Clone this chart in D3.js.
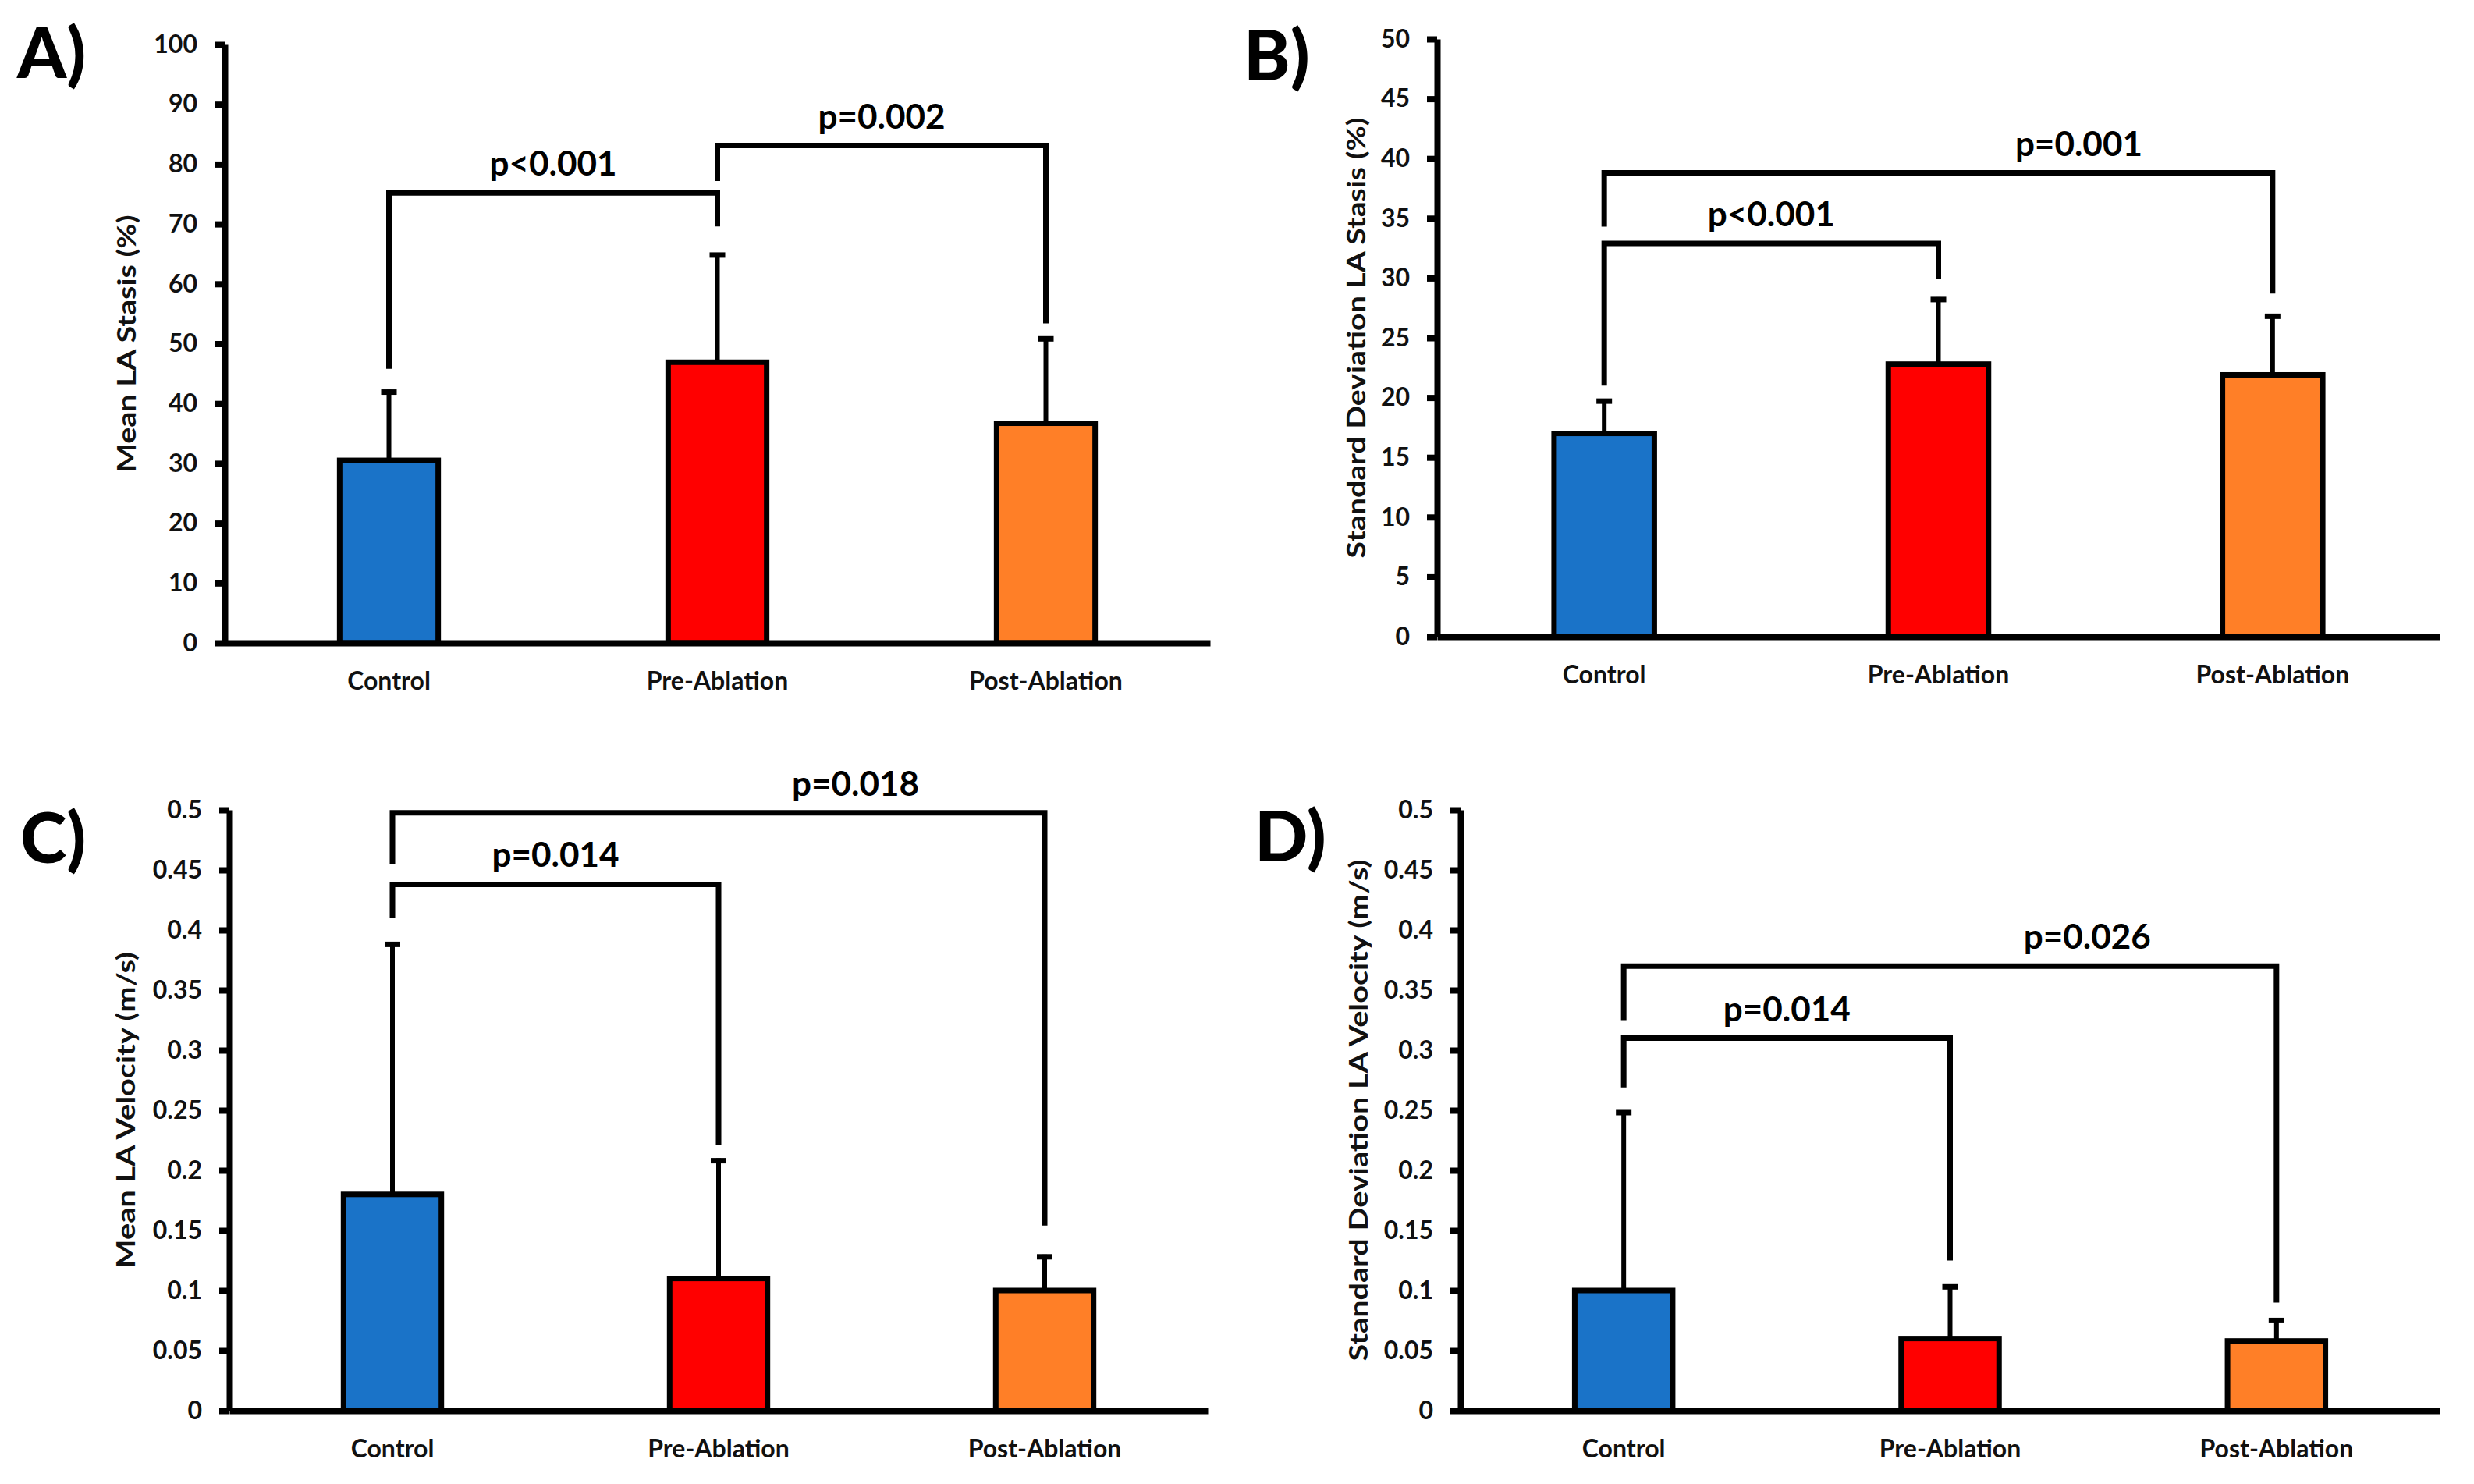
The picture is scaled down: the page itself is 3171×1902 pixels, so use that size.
<!DOCTYPE html>
<html>
<head>
<meta charset="utf-8">
<script src="https://cdn.jsdelivr.net/npm/d3@7"></script>
<style>
  html, body { margin: 0; padding: 0; background: #fff; }
  svg { display: block; }
</style>
</head>
<body>
<div id="chart"></div>
<script>
// Data.
const categories = ["Control", "Pre-Ablation", "Post-Ablation"];
const barColors = ["#1a73c8", "#ff0000", "#ff7f27"];

const meanStasis = [30.5, 46.9, 36.7];
const meanStasisErr = [11.8, 18.3, 14.5];
const sdStasis = [17.0, 22.8, 21.9];
const sdStasisErr = [2.9, 5.6, 5.1];
const meanVelocity = [0.18, 0.11, 0.10];
const meanVelocityErr = [0.21, 0.10, 0.03];
const sdVelocity = [0.10, 0.06, 0.058];
const sdVelocityErr = [0.15, 0.045, 0.019];

const ticksMeanStasis = [0, 10, 20, 30, 40, 50, 60, 70, 80, 90, 100];
const ticksSdStasis = [0, 5, 10, 15, 20, 25, 30, 35, 40, 45, 50];
const ticksVelocity = [0, 0.05, 0.1, 0.15, 0.2, 0.25, 0.3, 0.35, 0.4, 0.45, 0.5];

// significance brackets: groups a-b, bracket level, where each leg stops, label
const compMeanStasis = [
    { a: 0, b: 1, level: 75.2, legA: 45.8, legB: 69.6, p: "p<0.001" },
    { a: 1, b: 2, level: 83.1, legA: 77.2, legB: 53.4, p: "p=0.002" }
];
const compSdStasis = [
    { a: 0, b: 1, level: 32.9, legA: 21.0, legB: 29.9, p: "p<0.001" },
    { a: 0, b: 2, level: 38.8, legA: 34.3, legB: 28.7, p: "p=0.001" }
];
const compMeanVelocity = [
    { a: 0, b: 1, level: 0.438, legA: 0.410, legB: 0.221, p: "p=0.014" },
    { a: 0, b: 2, level: 0.4975, legA: 0.455, legB: 0.154, p: "p=0.018" }
];
const compSdVelocity = [
    { a: 0, b: 1, level: 0.31, legA: 0.269, legB: 0.125, p: "p=0.014" },
    { a: 0, b: 2, level: 0.37, legA: 0.325, legB: 0.090, p: "p=0.026" }
];

const W = 3171, H = 1902;
const FONT = "Lato, 'Open Sans', sans-serif";

const panels = [
    { letter: "A)", title: "Mean LA Stasis (%)", values: meanStasis, errs: meanStasisErr,
      ticks: ticksMeanStasis, max: 100, comps: compMeanStasis,
      x0: 288, x1: 1551, yTop: 57, yZero: 824, titleX: 161, titleLen: 330, letterX: 22, letterY: 100 },
    { letter: "B)", title: "Standard Deviation LA Stasis (%)", values: sdStasis, errs: sdStasisErr,
      ticks: ticksSdStasis, max: 50, comps: compSdStasis,
      x0: 1842, x1: 3127, yTop: 50, yZero: 816, titleX: 1737, titleLen: 565, letterX: 1594, letterY: 103 },
    { letter: "C)", title: "Mean LA Velocity (m/s)", values: meanVelocity, errs: meanVelocityErr,
      ticks: ticksVelocity, max: 0.5, comps: compMeanVelocity,
      x0: 294, x1: 1548, yTop: 1038, yZero: 1808, titleX: 160, titleLen: 406, letterX: 26, letterY: 1106 },
    { letter: "D)", title: "Standard Deviation LA Velocity (m/s)", values: sdVelocity, errs: sdVelocityErr,
      ticks: ticksVelocity, max: 0.5, comps: compSdVelocity,
      x0: 1872, x1: 3127, yTop: 1038, yZero: 1808, titleX: 1740, titleLen: 643, letterX: 1608, letterY: 1104 }
];

const svg = d3.select("#chart").append("svg")
    .attr("width", W)
    .attr("height", H)
    .attr("viewBox", `0 0 ${W} ${H}`);

svg.append("rect").attr("width", W).attr("height", H).attr("fill", "#fff");

const fmt = d => String(+d.toFixed(2));

function drawPanel(cfg) {
    const x = d3.scaleBand()
        .domain(categories)
        .range([cfg.x0, cfg.x1])
        .paddingInner(0.7)
        .paddingOuter(0.35);
    const y = d3.scaleLinear()
        .domain([0, cfg.max])
        .range([cfg.yZero, cfg.yTop]);
    const cx = i => x(categories[i]) + x.bandwidth() / 2;

    const g = svg.append("g");

    // error bars (upper only)
    g.selectAll("line.err")
        .data(cfg.values)
        .join("line")
        .attr("class", "err")
        .attr("x1", (d, i) => cx(i))
        .attr("x2", (d, i) => cx(i))
        .attr("y1", d => y(d))
        .attr("y2", (d, i) => y(d + cfg.errs[i]))
        .attr("stroke", "#000")
        .attr("stroke-width", 6);
    g.selectAll("line.cap")
        .data(cfg.values)
        .join("line")
        .attr("class", "cap")
        .attr("x1", (d, i) => cx(i) - 10)
        .attr("x2", (d, i) => cx(i) + 10)
        .attr("y1", (d, i) => y(d + cfg.errs[i]) + 3)
        .attr("y2", (d, i) => y(d + cfg.errs[i]) + 3)
        .attr("stroke", "#000")
        .attr("stroke-width", 7);

    // bars
    g.selectAll("rect.bar")
        .data(cfg.values)
        .join("rect")
        .attr("class", "bar")
        .attr("x", (d, i) => x(categories[i]))
        .attr("width", x.bandwidth())
        .attr("y", d => y(d))
        .attr("height", d => y(0) - y(d))
        .attr("fill", (d, i) => barColors[i])
        .attr("stroke", "#000")
        .attr("stroke-width", 7);

    // y axis
    const ya = g.append("g")
        .attr("transform", `translate(${cfg.x0},0)`)
        .call(d3.axisLeft(y)
            .tickValues(cfg.ticks)
            .tickFormat(fmt)
            .tickSizeInner(13)
            .tickSizeOuter(0)
            .tickPadding(22));
    ya.select(".domain").attr("stroke", "#000").attr("stroke-width", 8);
    ya.selectAll(".tick line").attr("stroke", "#000").attr("stroke-width", 8);
    ya.selectAll(".tick text")
        .attr("font-family", FONT)
        .attr("font-weight", 700)
        .attr("font-size", 32)
        .attr("fill", "#111");

    // x axis
    const xa = g.append("g")
        .attr("transform", `translate(0,${cfg.yZero})`)
        .call(d3.axisBottom(x).tickSize(0).tickSizeOuter(0));
    xa.select(".domain").attr("stroke", "#000").attr("stroke-width", 8);
    xa.selectAll(".tick text")
        .attr("y", 60)
        .attr("dy", null)
        .attr("font-family", FONT)
        .attr("font-weight", 700)
        .attr("font-size", 32)
        .attr("fill", "#111");

    // significance brackets
    g.selectAll("path.bracket")
        .data(cfg.comps)
        .join("path")
        .attr("class", "bracket")
        .attr("d", c => `M${cx(c.a)},${y(c.legA)}V${y(c.level)}H${cx(c.b)}V${y(c.legB)}`)
        .attr("fill", "none")
        .attr("stroke", "#000")
        .attr("stroke-width", 7);
    g.selectAll("text.pval")
        .data(cfg.comps)
        .join("text")
        .attr("class", "pval")
        .attr("x", c => cx(c.a) + (c.b - c.a > 1 ? 0.71 : 0.5) * (cx(c.b) - cx(c.a)))
        .attr("y", c => y(c.level) - 22)
        .attr("text-anchor", "middle")
        .attr("font-family", FONT)
        .attr("font-weight", 700)
        .attr("font-size", 44)
        .attr("fill", "#000")
        .text(c => c.p);

    // y title
    g.append("text")
        .attr("transform", `translate(${cfg.titleX},${(cfg.yTop + cfg.yZero) / 2}) rotate(-90)`)
        .attr("text-anchor", "middle")
        .attr("dominant-baseline", "central")
        .attr("font-family", FONT)
        .attr("font-weight", 700)
        .attr("font-size", 33)
        .attr("textLength", cfg.titleLen)
        .attr("lengthAdjust", "spacingAndGlyphs")
        .attr("fill", "#111")
        .text(cfg.title);

    // panel letter
    g.append("text")
        .attr("x", cfg.letterX)
        .attr("y", cfg.letterY)
        .attr("font-family", FONT)
        .attr("font-weight", 900)
        .attr("font-size", 90)
        .attr("fill", "#000")
        .text(cfg.letter);
}

panels.forEach(drawPanel);
</script>
</body>
</html>
